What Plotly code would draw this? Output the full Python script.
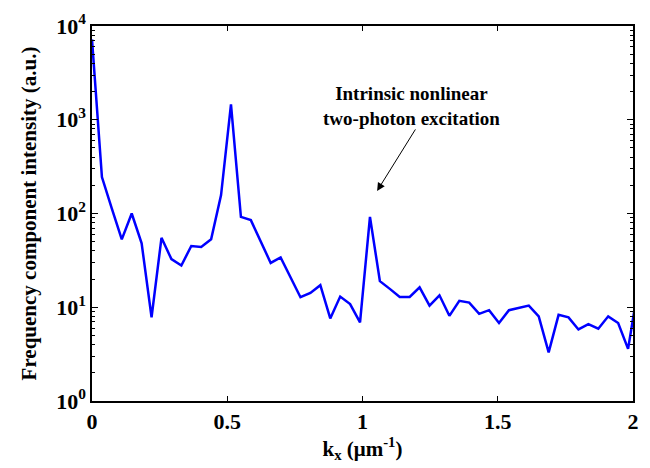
import math

import plotly.graph_objects as go

# %% Data (spatial frequency spectrum)
kx = [
    0.0000, 0.0367, 0.0734, 0.1101, 0.1468, 0.1835, 0.2202, 0.2569, 0.2936, 0.3303,
    0.3670, 0.4037, 0.4404, 0.4771, 0.5138, 0.5505, 0.5872, 0.6239, 0.6606, 0.6973,
    0.7340, 0.7707, 0.8074, 0.8441, 0.8808, 0.9175, 0.9542, 0.9909, 1.0276, 1.0643,
    1.1010, 1.1377, 1.1744, 1.2111, 1.2478, 1.2845, 1.3212, 1.3579, 1.3946, 1.4313,
    1.4680, 1.5047, 1.5414, 1.5781, 1.6148, 1.6515, 1.6882, 1.7249, 1.7616, 1.7983,
    1.8350, 1.8717, 1.9084, 1.9451, 1.9818, 2.0185,
]
intensity = [
    7200, 245, 113, 53, 100, 48, 7.8, 55, 32.6, 27.9,
    45, 44, 53, 157, 1460, 92, 85, 50, 29.7, 34,
    21, 12.8, 14.2, 17.2, 7.6, 13, 10.8, 6.9, 92, 19,
    15.7, 12.9, 12.9, 16.3, 10.4, 13.4, 8.1, 11.7, 11.2, 8.5,
    9.3, 6.8, 9.3, 9.8, 10.4, 8.0, 3.3, 8.3, 7.8, 5.8,
    6.6, 5.9, 8.0, 6.8, 3.6, 16,
]

y_major = [1, 10, 100, 1000, 10000]
y_labels = ["10<sup>0</sup>", "10<sup>1</sup>", "10<sup>2</sup>", "10<sup>3</sup>", "10<sup>4</sup>"]
y_minor = [m * d for d in [1, 10, 100, 1000] for m in range(2, 10)]
x_ticks = [0, 0.5, 1, 1.5, 2]
x_labels = ["0", "0.5", "1", "1.5", "2"]

# annotation: arrow head/tail and label centre, in data units
arrow_head = (1.054, 174)
arrow_tail = (1.199, 818)
note_pos = (1.182, 1390)
note_text = "Intrinsic nonlinear<br>two-photon excitation"

FONT = "Liberation Serif, Times New Roman, serif"

# %% Figure
fig = go.Figure()
fig.add_trace(
    go.Scatter(
        x=kx,
        y=intensity,
        mode="lines",
        line=dict(color="#0000ff", width=2.5),
        showlegend=False,
    )
)

fig.add_annotation(
    x=arrow_head[0], y=math.log10(arrow_head[1]),
    ax=arrow_tail[0], ay=math.log10(arrow_tail[1]),
    xref="x", yref="y", axref="x", ayref="y",
    text="", showarrow=True,
    arrowhead=2, arrowsize=1.6, arrowwidth=1, arrowcolor="black",
)
fig.add_annotation(
    x=note_pos[0], y=math.log10(note_pos[1]),
    xref="x", yref="y",
    text=f"<b>{note_text}</b>", showarrow=False,
    font=dict(family=FONT, size=19, color="black"),
    align="center",
)

axis_common = dict(
    showline=True, linecolor="black", linewidth=1.5, mirror="ticks",
    ticks="inside", tickcolor="black", showgrid=False, zeroline=False,
    automargin=False,
    tickfont=dict(family=FONT, size=22, color="black"),
)

fig.update_xaxes(
    range=[0, 2],
    tickvals=x_ticks,
    ticktext=[f"<b>{t}</b>" for t in x_labels],
    ticklen=5,
    title=dict(
        text="<b>k<sub>x</sub> (μm<sup>-1</sup>)</b>",
        font=dict(family=FONT, size=21, color="black"),
        standoff=2,
    ),
    **axis_common,
)
fig.update_yaxes(
    type="log",
    range=[0, 4],
    tickvals=y_major,
    ticktext=[f"<b>{t}</b>" for t in y_labels],
    ticklen=6,
    minor=dict(ticks="inside", ticklen=3, tickcolor="black", tickvals=y_minor),
    title=dict(
        text="<b>Frequency component intensity (a.u.)</b>",
        font=dict(family=FONT, size=21, color="black"),
        standoff=14,
    ),
    **axis_common,
)

# the page body adds an 8px offset, so the figure is drawn 8px smaller
fig.update_layout(
    width=642,
    height=460,
    margin=dict(l=84, r=17, t=18, b=67),
    plot_bgcolor="white",
    paper_bgcolor="white",
)

fig.write_html("out.html")
